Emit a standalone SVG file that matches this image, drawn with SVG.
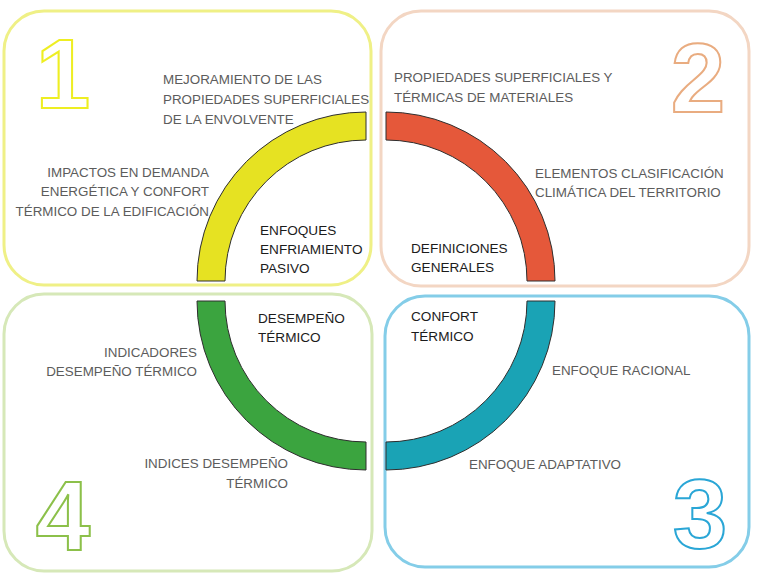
<svg xmlns="http://www.w3.org/2000/svg" width="759" height="579" viewBox="0 0 759 579">
<style>
  .box { fill: #ffffff; stroke-width: 3; }
  .num { font-family: "Liberation Sans", Arial, sans-serif; font-size: 98px; font-weight: bold; fill: #ffffff; stroke-width: 2; }
  .t { font-family: "Liberation Sans", Arial, sans-serif; font-size: 13.4px; fill: #5c5c5c; }
  .k { font-family: "Liberation Sans", Arial, sans-serif; font-size: 13.6px; fill: #1c1c1c; }
  .arc { stroke: #2e2e2e; stroke-width: 1; }
  .r { text-anchor: end; }
</style>
<rect width="759" height="579" fill="#ffffff"/>

<g id="q1">
  <rect class="box" x="4" y="11" width="367" height="274" rx="40" stroke="#eff086"/>
  <text class="num" x="63" y="108" text-anchor="middle" stroke="#eeee22">1</text>
  <path class="arc" fill="#e6e222" d="M197,281 A169,169 0 0 1 366,112 L366,140 A141,141 0 0 0 225,281 Z"/>
  <text class="t"><tspan x="163" y="84">MEJORAMIENTO DE LAS</tspan><tspan x="163" y="104">PROPIEDADES SUPERFICIALES</tspan><tspan x="163" y="124">DE LA ENVOLVENTE</tspan></text>
  <text class="t r"><tspan x="209" y="177">IMPACTOS EN DEMANDA</tspan><tspan x="209" y="196">ENERGÉTICA Y CONFORT</tspan><tspan x="209" y="216">TÉRMICO DE LA EDIFICACIÓN</tspan></text>
  <text class="k"><tspan x="260" y="235">ENFOQUES</tspan><tspan x="260" y="254">ENFRIAMIENTO</tspan><tspan x="260" y="273">PASIVO</tspan></text>
</g>

<g id="q2">
  <rect class="box" x="381" y="11" width="368" height="275" rx="40" stroke="#f3d6c3"/>
  <text class="num" x="698" y="112" text-anchor="middle" stroke="#e9ac80">2</text>
  <path class="arc" fill="#e5583a" d="M386,112 A169,169 0 0 1 555,281 L527,281 A141,141 0 0 0 386,140 Z"/>
  <text class="t"><tspan x="394" y="82">PROPIEDADES SUPERFICIALES Y</tspan><tspan x="394" y="102">TÉRMICAS DE MATERIALES</tspan></text>
  <text class="t"><tspan x="535" y="178">ELEMENTOS CLASIFICACIÓN</tspan><tspan x="535" y="197">CLIMÁTICA DEL TERRITORIO</tspan></text>
  <text class="k"><tspan x="411" y="253">DEFINICIONES</tspan><tspan x="411" y="272">GENERALES</tspan></text>
</g>

<g id="q4">
  <rect class="box" x="4" y="294" width="368" height="277" rx="40" stroke="#d6e8b8"/>
  <text class="num" x="63" y="550" text-anchor="middle" stroke="#8cc04a">4</text>
  <path class="arc" fill="#3ba43f" d="M197,301 A169,169 0 0 0 366,470 L366,442 A141,141 0 0 1 225,301 Z"/>
  <text class="k"><tspan x="258" y="323">DESEMPEÑO</tspan><tspan x="258" y="342">TÉRMICO</tspan></text>
  <text class="t r"><tspan x="197" y="357">INDICADORES</tspan><tspan x="197" y="376">DESEMPEÑO TÉRMICO</tspan></text>
  <text class="t r"><tspan x="288" y="468">INDICES DESEMPEÑO</tspan><tspan x="288" y="488">TÉRMICO</tspan></text>
</g>

<g id="q3">
  <rect class="box" x="385" y="296" width="364" height="271" rx="40" stroke="#84cde8"/>
  <text class="num" x="700" y="548" text-anchor="middle" stroke="#2aa6d6">3</text>
  <path class="arc" fill="#1aa3b5" d="M555,301 A169,169 0 0 1 386,470 L386,442 A141,141 0 0 0 527,301 Z"/>
  <text class="k"><tspan x="411" y="321">CONFORT</tspan><tspan x="411" y="341">TÉRMICO</tspan></text>
  <text class="t"><tspan x="552" y="375">ENFOQUE RACIONAL</tspan></text>
  <text class="t"><tspan x="469" y="469">ENFOQUE ADAPTATIVO</tspan></text>
</g>
</svg>
